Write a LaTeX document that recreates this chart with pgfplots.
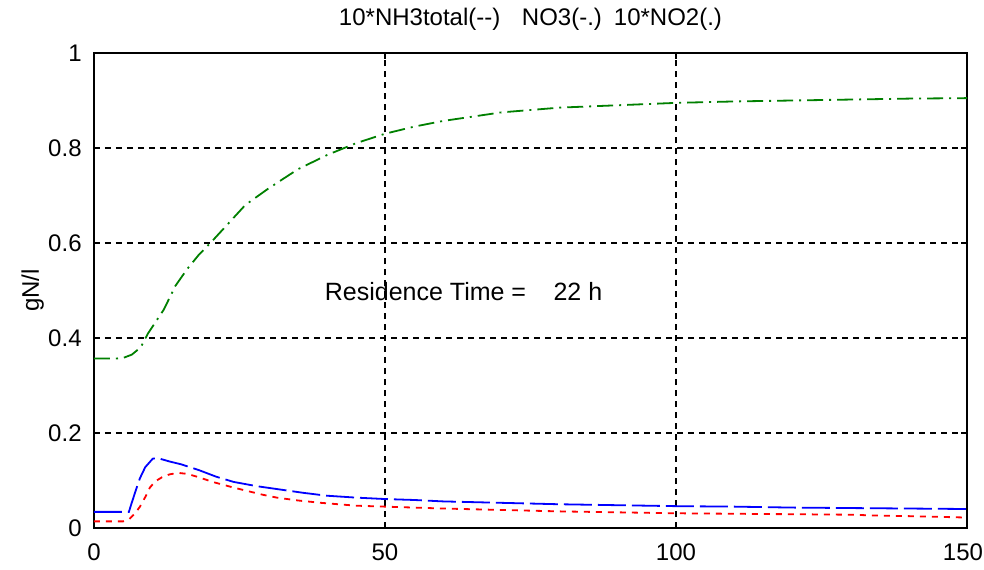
\documentclass[border=0pt]{standalone}
\usepackage{fontspec}
\setmainfont{Liberation Sans}
\usepackage{pgfplots}
\pgfplotsset{compat=1.18}
\definecolor{mgreen}{RGB}{0,128,0}
\begin{document}
\fontsize{12}{14}\selectfont
\begin{tikzpicture}
\begin{axis}[
  at={(0,0)}, anchor=south west,
  scale only axis,
  width=436.5pt, height=237.5pt,
  xmin=0, xmax=150, ymin=0, ymax=1,
  xtick={0,50,100,150},
  ytick={0,0.2,0.4,0.6,0.8,1},
  yticklabels={0,0.2,0.4,0.6,0.8,1},
  xticklabels={0,50,100,\hspace*{-4pt}150},
  tick align=inside,
  major tick length=3pt,
  tick style={black, line width=0.6pt},
  axis line style={black, line width=1pt},
  grid=major,
  major grid style={black, line width=0.7pt, dash pattern=on 3pt off 2.5pt},
  /pgf/number format/assume math mode=true,
  ticklabel style={font=\fontsize{12}{14}\selectfont},
  yticklabel style={xshift=-2pt},
  xticklabel style={yshift=-3.5pt},
  title={10*NH3total(-{}-)\hspace{0.9em}NO3(-.)\hspace{0.5em}10*NO2(.)},
  title style={font=\fontsize{12}{14}\selectfont, yshift=1pt},
  ylabel={gN/l},
  ylabel style={font=\fontsize{12}{14}\selectfont, yshift=-6pt},
  clip=true,
]
% NO3 (green, dash-dot)
\addplot[mgreen, line width=0.9pt, dash pattern=on 8pt off 3pt on 1pt off 3pt] coordinates {
(0,0.357) (4,0.357) (5,0.358) (6.5,0.365) (8,0.38) (9.3,0.41) (12,0.46) (14,0.51)
(16,0.545) (18,0.575) (20,0.60) (23,0.64) (26,0.68) (30,0.715) (35,0.755) (40,0.785)
(45,0.81) (50,0.83) (55,0.845) (60,0.857) (70,0.875) (80,0.885) (90,0.89) (100,0.895)
(110,0.898) (120,0.90) (130,0.902) (140,0.904) (150,0.905)
};
% 10*NH3total (blue, dashed)
\addplot[blue, line width=0.9pt, dash pattern=on 14pt off 3pt] coordinates {
(0,0.034) (6,0.034) (6.3,0.046) (7.2,0.08) (7.9,0.105) (8.8,0.128) (10.1,0.146) (11,0.147)
(13,0.140) (15,0.134) (18,0.122) (21,0.108) (24,0.097) (28,0.088) (32,0.081) (36,0.074)
(40,0.068) (45,0.064) (50,0.061) (55,0.059) (60,0.056) (70,0.053) (80,0.050) (90,0.048)
(100,0.046) (110,0.045) (120,0.043) (130,0.042) (140,0.041) (150,0.040)
};
% 10*NO2 (red, dotted)
\addplot[red, line width=0.9pt, dash pattern=on 3pt off 3pt] coordinates {
(0,0.014) (5,0.014) (6,0.018) (7,0.03) (7.9,0.045) (8.8,0.065) (9.6,0.085) (10.5,0.098)
(11.7,0.107) (13,0.113) (14.5,0.116) (16,0.114) (17.7,0.108) (20.4,0.097) (23.4,0.087)
(26,0.079) (29,0.070) (31.4,0.064) (35,0.058) (39,0.053) (45,0.047) (50,0.045) (55,0.043)
(60,0.041) (70,0.038) (80,0.035) (90,0.033) (100,0.031) (110,0.030) (120,0.029)
(130,0.028) (135,0.026) (140,0.025) (150,0.022)
};
\node[anchor=west, inner sep=0pt, font=\fontsize{12.5}{14}\selectfont] at (axis cs:39.6,0.497) {Residence Time =\hspace{1.1em}22 h};
\end{axis}
\pgfresetboundingbox
\path[use as bounding box] (-47pt,-20.5pt) rectangle (445pt,264pt);
\end{tikzpicture}
\end{document}
